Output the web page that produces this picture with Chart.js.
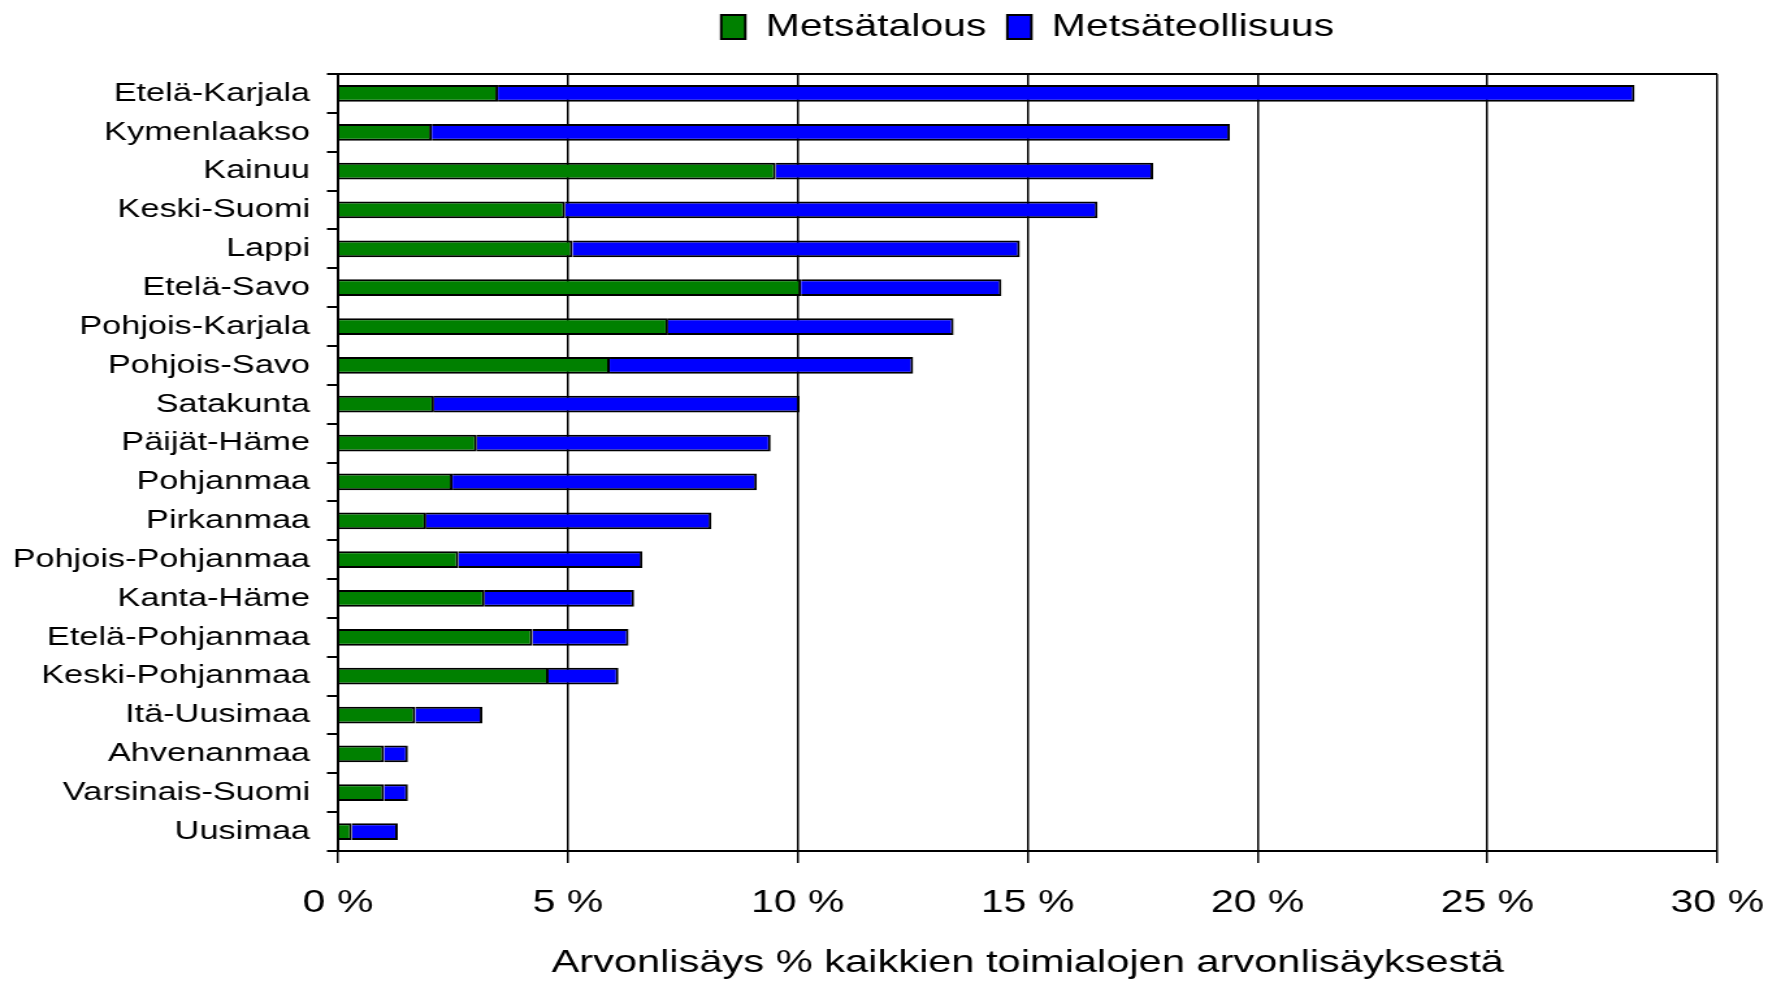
<!DOCTYPE html>
<html lang="fi">
<head>
    <meta charset="UTF-8">
    <title>Metsäsektorin arvonlisäys maakunnittain</title>
    <script src="https://cdn.jsdelivr.net/npm/chart.js@4"></script>
    <style>
        body { margin: 0; background: #fff; overflow: hidden; }
        /* alkuperäinen kuva on venytetty vaakasuunnassa, joten piirretään kapeampi kangas ja venytetään */
        .wrap { width: 1360px; height: 983px; transform: scaleX(1.3); transform-origin: 0 0; }
        canvas { display: block; }
    </style>
</head>
<body>
    <div class="wrap">
        <canvas id="chart" width="1360" height="983"></canvas>
    </div>

    <script>
        const maakunnat = [
            'Etelä-Karjala', 'Kymenlaakso', 'Kainuu', 'Keski-Suomi', 'Lappi',
            'Etelä-Savo', 'Pohjois-Karjala', 'Pohjois-Savo', 'Satakunta', 'Päijät-Häme',
            'Pohjanmaa', 'Pirkanmaa', 'Pohjois-Pohjanmaa', 'Kanta-Häme', 'Etelä-Pohjanmaa',
            'Keski-Pohjanmaa', 'Itä-Uusimaa', 'Ahvenanmaa', 'Varsinais-Suomi', 'Uusimaa'
        ];
        const metsatalous = [3.48, 2.04, 9.52, 4.94, 5.10, 10.07, 7.18, 5.91, 2.09, 3.02,
                             2.49, 1.92, 2.62, 3.19, 4.23, 4.58, 1.68, 1.00, 1.00, 0.30];
        const metsateollisuus = [24.72, 17.36, 8.21, 11.58, 9.73, 4.36, 6.21, 6.60, 7.95, 6.39,
                                 6.62, 6.20, 4.00, 3.25, 2.09, 1.52, 1.46, 0.52, 0.52, 1.00];
        const xTicks = [0, 5, 10, 15, 20, 25, 30];
        const xTitle = 'Arvonlisäys % kaikkien toimialojen arvonlisäyksestä';

        const FONT = "'Liberation Sans', Arial, sans-serif";

        // legendan korkeus + kehyksen yläreuna
        const frame = {
            id: 'frame',
            beforeInit(chart) {
                const fit = chart.legend.fit;
                chart.legend.fit = function () { fit.call(this); this.height += 16.5; };
            },
            afterLayout(chart) {
                chart.legend.top -= 4.7;
                chart.legend.bottom -= 4.7;
            },
            afterDraw(chart) {
                const { ctx, chartArea: a } = chart;
                ctx.save();
                ctx.strokeStyle = '#000';
                ctx.lineWidth = 2;
                ctx.beginPath();
                ctx.moveTo(a.left, a.top);
                ctx.lineTo(a.right, a.top);
                ctx.stroke();
                ctx.restore();
            }
        };

        new Chart(document.getElementById('chart'), {
            type: 'bar',
            data: {
                labels: maakunnat,
                datasets: [
                    { label: 'Metsätalous', data: metsatalous, backgroundColor: '#008000', borderColor: '#000', borderWidth: 2 },
                    { label: 'Metsäteollisuus', data: metsateollisuus, backgroundColor: '#0000ff', borderColor: '#000', borderWidth: 2 }
                ]
            },
            options: {
                indexAxis: 'y',
                responsive: false,
                animation: false,
                devicePixelRatio: 1,
                layout: { padding: { left: 0, right: 39, top: 0, bottom: 0 } },
                datasets: { bar: { categoryPercentage: 1, barPercentage: 0.43 } },
                plugins: {
                    legend: {
                        position: 'top',
                        fullSize: false,
                        labels: {
                            color: '#000',
                            font: { family: FONT, size: 31.5 },
                            boxWidth: 18.5,
                            boxHeight: 24,
                            padding: 16
                        }
                    },
                    tooltip: { enabled: false }
                },
                scales: {
                    x: {
                        stacked: true,
                        min: 0,
                        max: 30,
                        afterBuildTicks: s => { s.ticks = xTicks.map(v => ({ value: v })); },
                        afterFit: s => { s.height = 132; s.paddingLeft = 0; s.paddingRight = 0; },
                        grid: { color: '#000', lineWidth: 1.5, tickColor: '#000', tickLength: 12 },
                        border: { color: '#000', width: 2 },
                        ticks: {
                            color: '#000',
                            font: { family: FONT, size: 31.5 },
                            padding: 21,
                            maxRotation: 0,
                            callback: v => v + ' %'
                        },
                        title: {
                            display: true,
                            text: xTitle,
                            color: '#000',
                            font: { family: FONT, size: 32 },
                            padding: { top: 0, bottom: 0.5 }
                        }
                    },
                    y: {
                        stacked: true,
                        afterFit: s => { s.width = 260; },
                        grid: { drawOnChartArea: false, color: '#000', tickColor: '#000', lineWidth: 2, tickLength: 8.5 },
                        border: { color: '#000', width: 2 },
                        ticks: {
                            color: '#000',
                            font: { family: FONT, size: 26.4 },
                            padding: 13,
                            autoSkip: false
                        }
                    }
                }
            },
            plugins: [frame]
        });
    </script>
</body>
</html>
